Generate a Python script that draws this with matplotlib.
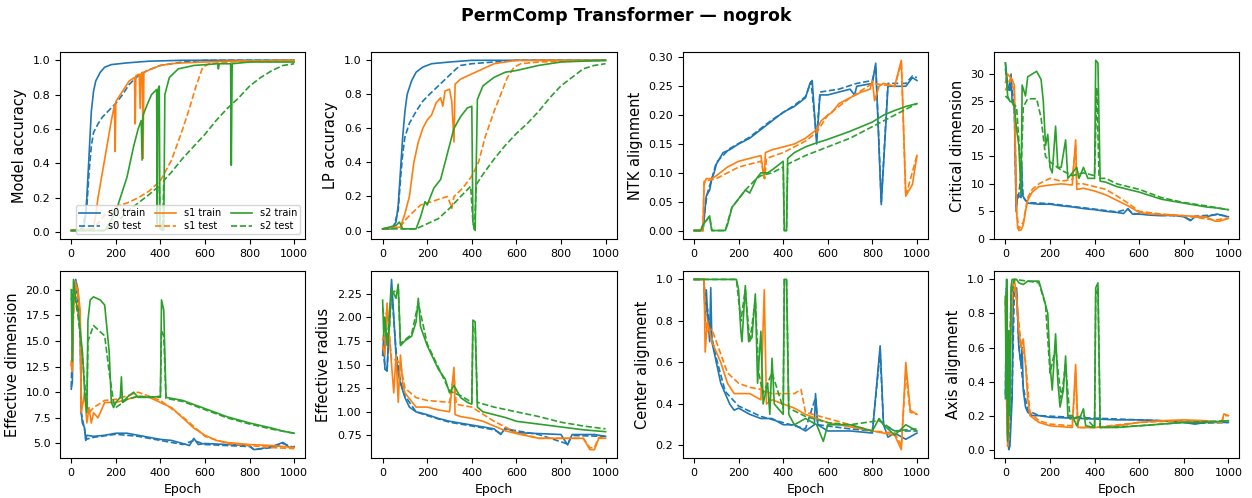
import matplotlib.pyplot as plt

# epochs / values (train and test per seed)

# --- Model accuracy
ACC_S0_TRAIN = [(0, .01), (40, .01), (60, .05), (70, .2), (80, .45), (90, .7), (100, .82), (110, .88), (130, .93),
                (150, .96), (180, .975), (250, .985), (350, .995), (500, 1.0), (1000, 1.0)]
ACC_S0_TEST = [(0, .01), (50, .02), (70, .15), (80, .35), (90, .5), (100, .58), (120, .63), (140, .67), (170, .71),
               (200, .75), (230, .8), (260, .86), (300, .91), (340, .94), (400, .97), (500, .99), (600, 1.0), (1000, 1.0)]
ACC_S1_TRAIN = [(0, .01), (100, .02), (110, .1), (120, .2), (140, .35), (160, .5), (180, .65), (194, .74), (197, .47),
                (200, .76), (230, .82), (260, .88), (284, .9), (287, .63), (290, .91), (305, .92), (309, .72), (313, .92),
                (319, .93), (322, .43), (326, .93), (360, .95), (400, .97), (450, .98), (500, .985), (600, .99),
                (700, .995), (1000, 1.0)]
ACC_S1_TEST = [(0, .01), (100, .02), (150, .1), (200, .15), (250, .17), (300, .2), (350, .24), (400, .3), (450, .42),
               (500, .6), (530, .72), (560, .85), (590, .96), (620, .98), (700, .99), (1000, 1.0)]
ACC_S2_TRAIN = [(0, .01), (150, .01), (170, .05), (200, .12), (220, .2), (250, .32), (280, .5), (300, .6), (314, .65),
                (318, .42), (322, .68), (340, .74), (360, .8), (383, .83), (386, .05), (389, .83), (395, .85), (398, .02),
                (415, .01), (420, .8), (440, .9), (480, .95), (550, .97), (657, .98), (660, .95), (664, .98), (715, .98),
                (718, .39), (722, .98), (800, .99), (1000, .99)]
ACC_S2_TEST = [(0, .01), (150, .01), (200, .05), (250, .12), (300, .17), (350, .22), (395, .27), (400, .05),
               (410, .02), (415, .3), (450, .35), (500, .43), (550, .5), (600, .57), (650, .65), (700, .72), (750, .78),
               (800, .85), (850, .9), (900, .94), (950, .97), (1000, .98)]

# --- LP accuracy
LP_S0_TRAIN = [(0, .01), (40, .01), (60, .05), (70, .15), (80, .35), (90, .55), (100, .7), (110, .8), (130, .88),
               (150, .93), (180, .96), (220, .98), (300, .99), (400, 1.0), (1000, 1.0)]
LP_S0_TEST = [(0, .01), (50, .02), (70, .12), (80, .3), (90, .45), (100, .55), (120, .63), (150, .7), (180, .76),
              (210, .8), (250, .85), (290, .9), (330, .95), (350, .97), (400, .98), (500, .99), (600, 1.0), (1000, 1.0)]
LP_S1_TRAIN = [(0, .01), (80, .02), (100, .1), (120, .2), (140, .4), (160, .52), (180, .6), (200, .65), (220, .68),
               (240, .75), (260, .78), (270, .73), (280, .82), (300, .83), (310, .76), (320, .52), (325, .86),
               (350, .89), (400, .92), (450, .95), (500, .98), (550, .99), (600, 1.0), (1000, 1.0)]
LP_S1_TEST = [(0, .01), (80, .02), (100, .06), (130, .1), (170, .15), (220, .17), (290, .2), (300, .17), (310, .13),
              (320, .2), (360, .25), (400, .32), (430, .4), (460, .55), (500, .7), (530, .8), (560, .9), (590, .96),
              (620, .98), (700, .99), (1000, 1.0)]
LP_S2_TRAIN = [(0, .01), (60, .03), (75, .05), (90, .01), (150, .01), (170, .08), (190, .17), (200, .15), (230, .25),
               (260, .3), (280, .4), (300, .5), (320, .6), (350, .67), (380, .72), (400, .73), (405, .05), (415, .0),
               (425, .77), (450, .85), (500, .9), (550, .93), (600, .94), (700, .97), (800, .99), (1000, 1.0)]
LP_S2_TEST = [(0, .01), (150, .01), (200, .04), (250, .07), (300, .13), (350, .2), (395, .26), (405, .05), (412, .0),
              (420, .27), (450, .33), (500, .42), (550, .5), (600, .57), (650, .63), (700, .7), (750, .78), (800, .85),
              (850, .9), (900, .95), (950, .97), (1000, .98)]

# --- NTK alignment
NTK_S0_TRAIN = [(0, 0), (40, 0), (50, .04), (55, .06), (70, .07), (80, .09), (90, .1), (100, .115), (130, .135),
                (160, .14), (200, .15), (250, .16), (300, .175), (350, .19), (400, .205), (450, .215), (500, .23),
                (520, .255), (530, .26), (550, .15), (565, .235), (600, .235), (650, .24), (700, .245), (720, .235),
                (730, .25), (800, .255), (815, .29), (820, .24), (840, .045), (870, .25), (900, .25), (950, .25),
                (980, .265), (1000, .26)]
NTK_S0_TEST = [(0, 0), (40, 0), (50, .04), (60, .065), (80, .09), (100, .118), (160, .142), (250, .162), (350, .192),
               (450, .217), (500, .232), (525, .258), (550, .16), (565, .24), (650, .245), (730, .255), (800, .26),
               (815, .285), (820, .245), (840, .05), (870, .255), (950, .255), (980, .268), (1000, .265)]
NTK_S1_TRAIN = [(0, 0), (40, 0), (45, .08), (55, .09), (80, .09), (100, .095), (150, .11), (200, .12), (250, .125),
                (300, .13), (315, .09), (320, .135), (350, .14), (400, .145), (450, .15), (500, .16), (550, .175),
                (570, .19), (600, .2), (620, .205), (650, .22), (700, .23), (750, .24), (790, .245), (800, .26),
                (810, .225), (830, .25), (850, .255), (900, .25), (930, .295), (950, .06), (980, .08), (1000, .13)]
NTK_S1_TEST = [(0, 0), (40, 0), (45, .085), (100, .09), (200, .11), (300, .12), (317, .09), (325, .125), (400, .135),
               (500, .155), (550, .17), (600, .2), (700, .23), (800, .255), (900, .25), (930, .29), (950, .06),
               (1000, .13)]
NTK_S2_TRAIN = [(0, 0), (30, 0), (40, .01), (60, .02), (70, .025), (75, .01), (80, 0), (140, 0), (150, .01),
                (170, .04), (200, .055), (230, .07), (250, .065), (280, .09), (300, .1), (330, .1), (350, .105),
                (400, .12), (405, 0), (415, 0), (420, .125), (450, .135), (500, .145), (550, .152), (600, .158),
                (650, .165), (700, .172), (750, .18), (800, .188), (850, .2), (900, .208), (950, .215), (1000, .22)]
NTK_S2_TEST = [(0, 0), (30, 0), (40, .01), (70, .025), (80, 0), (140, 0), (170, .04), (230, .07), (280, .09),
               (300, .095), (350, .1), (400, .11), (405, 0), (415, 0), (420, .115), (500, .13), (600, .145),
               (700, .16), (800, .18), (900, .2), (1000, .22)]

# --- Critical dimension
CRIT_S0_TRAIN = [(0, 32), (10, 28), (20, 27), (25, 30), (30, 25), (40, 24), (45, 13), (48, 5), (55, 8), (70, 7.5),
                 (72, 14), (75, 8), (90, 7), (100, 6.5), (150, 6.3), (200, 6.3), (250, 6.0), (300, 5.8), (350, 5.5),
                 (400, 5.3), (450, 5.0), (500, 4.8), (530, 4.6), (550, 5.5), (570, 4.5), (600, 4.5), (650, 4.3),
                 (700, 4.2), (750, 4.3), (800, 4.0), (830, 3.3), (850, 4.0), (900, 4.0), (950, 4.5), (1000, 4.0)]
CRIT_S0_TEST = [(0, 31), (10, 27), (25, 29), (40, 24), (48, 6), (60, 8), (72, 13), (80, 7.5), (100, 6.6), (200, 6.4),
                (300, 5.9), (400, 5.4), (500, 4.9), (550, 5.4), (570, 4.6), (700, 4.3), (800, 4.1), (830, 3.4),
                (850, 4.1), (950, 4.4), (1000, 4.1)]
CRIT_S1_TRAIN = [(0, 28.5), (10, 30), (20, 29.5), (30, 29), (40, 28), (45, 15), (50, 5), (55, 2), (60, 1.5), (70, 1.6),
                 (80, 2.5), (90, 5), (100, 7), (120, 8.5), (150, 9.5), (200, 9.8), (250, 10), (300, 9.8), (315, 18),
                 (320, 9), (350, 9.2), (400, 8.7), (450, 8), (500, 7), (550, 6), (600, 4.8), (650, 4.5), (700, 4.4),
                 (800, 4.2), (900, 4), (940, 3.2), (960, 3.2), (1000, 3.7)]
CRIT_S1_TEST = [(0, 27), (20, 29), (40, 27), (50, 5), (60, 1.8), (80, 3), (100, 7.5), (120, 9), (150, 10), (200, 11),
                (250, 10.5), (300, 10.8), (315, 17), (320, 10), (350, 10), (400, 9.5), (450, 9), (500, 7.8), (550, 6.5),
                (600, 5), (700, 4.5), (800, 4.2), (940, 3.4), (1000, 3.8)]
CRIT_S2_TRAIN = [(0, 32), (10, 26), (20, 25), (30, 25), (40, 24), (50, 20), (60, 17), (70, 8), (75, 28), (90, 26),
                 (100, 29.5), (120, 30), (140, 30.5), (160, 29), (170, 25), (180, 17), (190, 19), (200, 13), (210, 12),
                 (225, 20.5), (235, 13), (250, 13), (270, 18), (280, 11), (300, 12), (320, 13), (330, 11), (350, 13),
                 (370, 11), (400, 11), (405, 32.5), (415, 32), (425, 10.5), (450, 10.3), (500, 9.5), (600, 8.5),
                 (700, 7.2), (800, 6.5), (900, 5.8), (950, 5.6), (1000, 5.3)]
CRIT_S2_TEST = [(0, 26), (50, 24), (70, 12), (80, 24), (100, 25.5), (140, 25.5), (160, 22), (180, 15), (200, 14),
                (250, 12.5), (300, 11.5), (350, 12), (400, 11.5), (410, 27.5), (420, 11), (450, 11), (500, 10),
                (600, 9), (700, 7.5), (800, 6.6), (900, 6.0), (1000, 5.3)]

# --- Effective dimension
EFFD_S0_TRAIN = [(0, 10.3), (5, 11), (10, 20), (20, 21), (30, 20), (40, 17), (45, 8), (50, 7), (60, 6.5), (65, 5.3),
                 (70, 5.8), (100, 5.7), (150, 5.8), (200, 6.0), (250, 6.0), (300, 5.8), (350, 5.6), (400, 5.4),
                 (450, 5.3), (500, 5.0), (530, 4.8), (550, 5.5), (570, 4.9), (600, 5.0), (700, 4.9), (800, 4.8),
                 (820, 4.4), (850, 4.5), (900, 4.7), (950, 5.1), (980, 4.6), (1000, 4.7)]
EFFD_S0_TEST = [(0, 10.5), (10, 19.5), (20, 20.5), (40, 16.5), (45, 8), (60, 6.3), (65, 5.4), (100, 5.6), (200, 5.9),
                (300, 5.7), (400, 5.3), (500, 4.9), (550, 5.3), (600, 4.9), (800, 4.7), (820, 4.4), (900, 4.6),
                (950, 5.0), (1000, 4.6)]
EFFD_S1_TRAIN = [(0, 13), (5, 12), (10, 18), (20, 20.5), (30, 20), (40, 18), (45, 8), (60, 10), (70, 7), (80, 8.5),
                 (90, 7), (100, 8), (120, 7.5), (140, 8.5), (150, 9), (200, 9.0), (250, 9.3), (300, 9.6), (350, 9.5),
                 (400, 9.0), (450, 8.5), (500, 7.5), (550, 6.5), (600, 5.8), (650, 5.3), (700, 5.1), (800, 4.9),
                 (900, 4.8), (950, 4.7), (1000, 4.6)]
EFFD_S1_TEST = [(0, 12.5), (10, 17.5), (20, 20.8), (40, 17.5), (45, 8.5), (60, 9.5), (80, 8), (100, 8.5), (150, 9.2),
                (200, 9.3), (300, 10), (350, 9.6), (400, 9.2), (500, 7.6), (600, 5.7), (700, 5.0), (800, 4.8),
                (900, 4.6), (1000, 4.5)]
EFFD_S2_TRAIN = [(0, 20), (5, 13), (10, 21), (20, 19), (30, 18), (40, 16), (50, 14), (60, 10), (70, 8), (75, 17),
                 (85, 19), (100, 19.3), (130, 19), (150, 18.5), (170, 14), (180, 9), (190, 8.5), (200, 9.0), (220, 9.5),
                 (225, 11.5), (230, 9), (250, 9.5), (280, 10), (300, 9.5), (350, 9.5), (400, 9.6), (405, 19), (415, 18),
                 (425, 9.5), (450, 9.4), (500, 9.2), (600, 8.4), (700, 7.6), (800, 7.0), (900, 6.5), (950, 6.2),
                 (1000, 6.0)]
EFFD_S2_TEST = [(0, 19), (10, 20), (30, 17.5), (50, 13.5), (70, 8.5), (75, 15), (100, 16.5), (150, 15.5), (170, 12),
                (190, 9), (200, 8.5), (250, 9.3), (300, 9.6), (400, 9.5), (405, 16), (415, 15.5), (425, 9.4),
                (500, 9.1), (600, 8.3), (700, 7.5), (800, 6.9), (900, 6.4), (1000, 6.0)]

# --- Effective radius
EFFR_S0_TRAIN = [(0, 1.6), (5, 1.8), (10, 1.45), (20, 1.43), (30, 2.0), (40, 2.4), (50, 2.0), (60, 1.6), (70, 1.4),
                 (80, 1.3), (100, 1.15), (120, 1.05), (150, 1.0), (200, .97), (250, .93), (300, .9), (350, .88),
                 (400, .86), (450, .84), (500, .82), (530, .76), (550, .83), (600, .78), (700, .77), (800, .76),
                 (830, .65), (850, .76), (900, .76), (950, .76), (1000, .74)]
EFFR_S0_TEST = [(0, 1.65), (10, 1.5), (20, 1.45), (40, 2.3), (60, 1.65), (80, 1.32), (100, 1.17), (150, 1.0),
                (200, .96), (300, .89), (400, .85), (500, .81), (530, .77), (550, .82), (700, .76), (830, .66),
                (850, .75), (1000, .74)]
EFFR_S1_TRAIN = [(0, 1.7), (10, 1.6), (20, 2.15), (30, 1.8), (40, 1.5), (50, 1.2), (60, 1.6), (70, 1.1), (80, 1.6),
                 (90, 1.3), (100, 1.2), (150, 1.05), (200, 1.05), (250, 1.02), (300, 1.0), (320, 1.47), (325, .97),
                 (350, .95), (400, .93), (450, .9), (500, .85), (550, .8), (600, .77), (700, .72), (800, .72),
                 (900, .72), (930, .6), (950, .6), (970, .72), (1000, .72)]
EFFR_S1_TEST = [(0, 1.75), (20, 2.1), (40, 1.55), (60, 1.55), (80, 1.5), (100, 1.25), (150, 1.15), (200, 1.12),
                (300, 1.1), (320, 1.4), (330, 1.08), (400, 1.05), (500, .9), (600, .78), (700, .72), (900, .72),
                (930, .62), (950, .62), (970, .73), (1000, .72)]
EFFR_S2_TRAIN = [(0, 2.18), (5, 1.8), (10, 2.0), (20, 1.7), (30, 1.9), (40, 2.3), (60, 2.2), (70, 2.35), (80, 1.7),
                 (100, 1.75), (130, 1.8), (150, 1.95), (160, 2.2), (170, 1.9), (200, 1.7), (220, 1.6), (250, 1.45),
                 (280, 1.35), (300, 1.2), (320, 1.28), (350, 1.15), (380, 1.1), (400, 1.08), (405, 1.97), (415, 1.95),
                 (425, 1.05), (450, 1.0), (500, .97), (550, .94), (600, .9), (700, .87), (800, .84), (900, .81),
                 (1000, .79)]
EFFR_S2_TEST = [(0, 2.1), (20, 1.75), (40, 2.25), (70, 2.3), (80, 1.72), (130, 1.82), (160, 2.15), (200, 1.72),
                (250, 1.47), (300, 1.22), (350, 1.17), (400, 1.1), (405, 1.9), (415, 1.9), (425, 1.1), (500, 1.05),
                (600, 1.0), (700, .95), (800, .89), (900, .85), (1000, .82)]

# --- Center alignment
CEN_S0_TRAIN = [(0, 1.0), (45, 1.0), (50, .8), (55, .95), (60, .85), (70, .7), (75, .96), (80, .7), (100, .6),
                (120, .5), (140, .45), (160, .4), (180, .37), (200, .38), (250, .35), (300, .33), (350, .33), (400, .3),
                (450, .3), (500, .27), (540, .3), (545, .45), (555, .3), (600, .27), (700, .27), (800, .26), (835, .68),
                (850, .3), (870, .24), (900, .26), (950, .23), (1000, .26)]
CEN_S0_TEST = [(0, 1.0), (45, 1.0), (50, .82), (60, .86), (80, .72), (100, .62), (140, .46), (200, .39), (300, .34),
               (400, .31), (500, .28), (545, .43), (555, .3), (700, .28), (800, .27), (835, .65), (850, .3), (900, .27),
               (1000, .27)]
CEN_S1_TRAIN = [(0, 1.0), (45, 1.0), (50, .65), (60, .8), (80, .7), (100, .65), (120, .6), (150, .5), (180, .45),
                (200, .45), (250, .45), (300, .42), (315, .95), (325, .4), (350, .42), (400, .4), (450, .38), (500, .35),
                (550, .33), (600, .31), (700, .29), (800, .27), (900, .25), (930, .18), (950, .6), (970, .37),
                (1000, .35)]
CEN_S1_TEST = [(0, 1.0), (45, 1.0), (55, .75), (80, .76), (100, .7), (150, .55), (200, .5), (250, .48), (300, .47),
               (350, .45), (400, .45), (450, .45), (480, .47), (500, .36), (600, .33), (700, .3), (800, .27), (900, .26),
               (930, .2), (950, .55), (970, .36), (1000, .35)]
CEN_S2_TRAIN = [(0, 1.0), (190, 1.0), (200, .95), (210, .75), (215, .7), (230, .97), (245, .7), (260, .72), (275, .93),
                (285, .5), (300, .75), (310, .4), (330, .5), (340, .35), (350, .62), (360, .4), (400, .35), (405, 1.0),
                (415, 1.0), (425, .35), (450, .3), (500, .33), (550, .3), (580, .22), (600, .3), (700, .3), (800, .27),
                (830, .33), (850, .3), (900, .25), (950, .3), (1000, .27)]
CEN_S2_TEST = [(0, 1.0), (190, 1.0), (210, .8), (230, .95), (250, .7), (275, .9), (290, .55), (310, .45), (350, .55),
               (400, .38), (405, 1.0), (415, 1.0), (425, .38), (500, .34), (600, .31), (700, .3), (830, .32),
               (900, .27), (1000, .28)]

# --- Axis alignment
AX_S0_TRAIN = [(0, .3), (5, 1.0), (10, .1), (15, 0), (20, .02), (30, .3), (35, .9), (40, .95), (50, .95), (60, .6),
               (70, .5), (75, .6), (80, .35), (90, .25), (100, .22), (120, .2), (150, .2), (200, .19), (300, .185),
               (400, .18), (500, .175), (600, .175), (700, .17), (800, .16), (850, .15), (900, .16), (1000, .16)]
AX_S0_TEST = [(0, .32), (5, .95), (10, .12), (15, .02), (30, .35), (40, .93), (50, .93), (60, .62), (80, .37),
              (100, .23), (150, .2), (300, .19), (500, .18), (700, .17), (850, .155), (1000, .16)]
AX_S1_TRAIN = [(0, .9), (5, .3), (10, .02), (15, .1), (20, .5), (30, .95), (40, 1.0), (50, .9), (60, .7), (70, .6),
               (80, .65), (90, .5), (100, .3), (110, .2), (130, .18), (150, .16), (200, .14), (300, .13), (315, .5),
               (325, .13), (400, .13), (500, .14), (600, .16), (700, .17), (800, .175), (900, .17), (970, .16),
               (980, .21), (1000, .2)]
AX_S1_TEST = [(0, .88), (10, .05), (20, .55), (35, .97), (50, .88), (70, .62), (90, .52), (110, .22), (150, .17),
              (200, .15), (300, .14), (315, .45), (325, .13), (400, .13), (600, .16), (800, .17), (970, .16),
              (980, .2), (1000, .2)]
AX_S2_TRAIN = [(0, .9), (3, .3), (6, 1.0), (10, .05), (15, .7), (20, .2), (25, .95), (30, 1.0), (50, 1.0), (60, .98),
               (80, .97), (100, .99), (150, .99), (170, .9), (190, .8), (200, .5), (210, .35), (225, .68), (235, .4),
               (245, .25), (260, .35), (270, .55), (280, .2), (300, .2), (320, .14), (350, .24), (360, .14), (400, .13),
               (405, .95), (415, .98), (425, .13), (500, .13), (600, .14), (700, .15), (800, .16), (900, .16),
               (1000, .17)]
AX_S2_TEST = [(0, .85), (6, .95), (10, .08), (25, .9), (40, 1.0), (100, .99), (150, .98), (180, .85), (200, .45),
              (225, .6), (250, .3), (270, .5), (290, .18), (350, .2), (400, .13), (405, .9), (415, .95), (425, .13),
              (600, .14), (800, .16), (1000, .17)]

YLABELS = ["Model accuracy", "LP accuracy", "NTK alignment", "Critical dimension",
           "Effective dimension", "Effective radius", "Center alignment", "Axis alignment"]
PANELS = [
    [ACC_S0_TRAIN, ACC_S0_TEST, ACC_S1_TRAIN, ACC_S1_TEST, ACC_S2_TRAIN, ACC_S2_TEST],
    [LP_S0_TRAIN, LP_S0_TEST, LP_S1_TRAIN, LP_S1_TEST, LP_S2_TRAIN, LP_S2_TEST],
    [NTK_S0_TRAIN, NTK_S0_TEST, NTK_S1_TRAIN, NTK_S1_TEST, NTK_S2_TRAIN, NTK_S2_TEST],
    [CRIT_S0_TRAIN, CRIT_S0_TEST, CRIT_S1_TRAIN, CRIT_S1_TEST, CRIT_S2_TRAIN, CRIT_S2_TEST],
    [EFFD_S0_TRAIN, EFFD_S0_TEST, EFFD_S1_TRAIN, EFFD_S1_TEST, EFFD_S2_TRAIN, EFFD_S2_TEST],
    [EFFR_S0_TRAIN, EFFR_S0_TEST, EFFR_S1_TRAIN, EFFR_S1_TEST, EFFR_S2_TRAIN, EFFR_S2_TEST],
    [CEN_S0_TRAIN, CEN_S0_TEST, CEN_S1_TRAIN, CEN_S1_TEST, CEN_S2_TRAIN, CEN_S2_TEST],
    [AX_S0_TRAIN, AX_S0_TEST, AX_S1_TRAIN, AX_S1_TEST, AX_S2_TRAIN, AX_S2_TEST],
]
SEED_COLORS = ["#1f77b4", "#ff7f0e", "#2ca02c"]

fig, axes = plt.subplots(2, 4, figsize=(12.52, 4.98), dpi=100)
fig.subplots_adjust(left=0.048, right=0.99, bottom=0.08, top=0.896, wspace=0.27, hspace=0.17)

for i, ax in enumerate(axes.flat):
    for k, series in enumerate(PANELS[i]):
        seed = k // 2
        split = "train" if k % 2 == 0 else "test"
        xs = [p[0] for p in series]
        ys = [p[1] for p in series]
        ax.plot(xs, ys, color=SEED_COLORS[seed], lw=1.2,
                ls="-" if split == "train" else "--", label=f"s{seed} {split}")
    ax.set_ylabel(YLABELS[i], fontsize=10.5)
    ax.tick_params(labelsize=8)
    ax.set_xticks([0, 200, 400, 600, 800, 1000])
    if i >= 4:
        ax.set_xlabel("Epoch", fontsize=9)

axes[0, 0].legend(loc="lower right", ncol=3, fontsize=7, handlelength=2.2, columnspacing=1.0,
                  borderpad=0.3, labelspacing=0.3)
fig.suptitle("PermComp Transformer — nogrok", fontsize=12.5, fontweight="bold", y=0.985)

fig.savefig("out.png")
